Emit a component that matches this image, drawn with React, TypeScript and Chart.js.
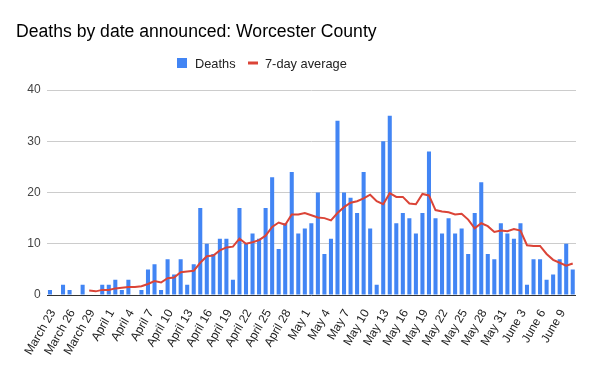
import React, { useEffect, useRef } from "react";
import { Chart, registerables } from "chart.js";

Chart.register(...registerables);

const titleText = "Deaths by date announced: Worcester County";

const categories = [
  "March 23", "March 24", "March 25", "March 26", "March 27", "March 28", "March 29", "March 30", "March 31",
  "April 1", "April 2", "April 3", "April 4", "April 5", "April 6", "April 7", "April 8", "April 9", "April 10",
  "April 11", "April 12", "April 13", "April 14", "April 15", "April 16", "April 17", "April 18", "April 19", "April 20",
  "April 21", "April 22", "April 23", "April 24", "April 25", "April 26", "April 27", "April 28", "April 29", "April 30",
  "May 1", "May 2", "May 3", "May 4", "May 5", "May 6", "May 7", "May 8", "May 9", "May 10",
  "May 11", "May 12", "May 13", "May 14", "May 15", "May 16", "May 17", "May 18", "May 19", "May 20",
  "May 21", "May 22", "May 23", "May 24", "May 25", "May 26", "May 27", "May 28", "May 29", "May 30", "May 31",
  "June 1", "June 2", "June 3", "June 4", "June 5", "June 6", "June 7", "June 8", "June 9", "June 10", "June 11",
];

const shownTicks = [
  "March 23", "March 26", "March 29", "April 1", "April 4", "April 7", "April 10", "April 13", "April 16",
  "April 19", "April 22", "April 25", "April 28", "May 1", "May 4", "May 7", "May 10", "May 13", "May 16",
  "May 19", "May 22", "May 25", "May 28", "May 31", "June 3", "June 6", "June 9",
];

const deaths = [
  1, 0, 2, 1, 0, 2, 0, 0, 2,
  2, 3, 1, 3, 0, 1, 5, 6, 1, 7,
  4, 7, 2, 6, 17, 10, 8, 11, 11, 3,
  17, 10, 12, 11, 17, 23, 9, 14, 24, 12,
  13, 14, 20, 8, 11, 34, 20, 19, 16, 24,
  13, 2, 30, 35, 14, 16, 15, 12, 16, 28,
  15, 12, 15, 12, 13, 8, 16, 22, 8, 7, 14,
  12, 11, 14, 2, 7, 7, 3, 4, 7, 10, 5,
];

const sevenDayAverage = [
  null, null, null, null, null, null, 0.86, 0.71, 1.0,
  1.0, 1.29, 1.43, 1.57, 1.57, 1.71, 2.14, 2.71, 2.43, 3.29,
  3.43, 4.43, 4.57, 4.71, 6.29, 7.57, 7.71, 8.71, 9.29, 9.43,
  11.0, 10.0, 10.29, 10.71, 11.57, 13.29, 14.14, 13.71, 15.71, 15.71,
  16.0, 15.57, 15.14, 15.0, 14.57, 16.0, 17.14, 18.0, 18.29, 18.86,
  19.57, 18.29, 17.71, 19.86, 19.14, 19.14, 17.86, 17.71, 19.71, 19.43,
  16.57, 16.29, 16.14, 15.71, 15.86, 14.71, 13.0, 14.0, 13.43, 12.29, 12.57,
  12.43, 12.86, 12.57, 9.71, 9.57, 9.57, 8.0, 6.86, 6.29, 5.71, 6.14,
];

const yTicks = [0, 10, 20, 30, 40];

const BLUE = "#4285f4";
const RED = "#db4437";
const FONT = "'Liberation Sans', Arial, sans-serif";

const overlayPlugin = {
  id: "overlay",
  afterDraw(chart: any) {
    const ctx = chart.ctx;
    ctx.save();
    ctx.textAlign = "left";
    ctx.textBaseline = "alphabetic";
    ctx.fillStyle = "#000";
    ctx.font = `17.6px ${FONT}`;
    ctx.fillText(titleText, 16, 37);

    ctx.font = `12.8px ${FONT}`;
    ctx.fillStyle = BLUE;
    ctx.fillRect(177, 58, 10, 10);
    ctx.fillStyle = "#222";
    ctx.fillText(chart.data.datasets[1].label, 195, 68);
    ctx.strokeStyle = RED;
    ctx.lineWidth = 3;
    ctx.beginPath();
    ctx.moveTo(248, 63);
    ctx.lineTo(258, 63);
    ctx.stroke();
    ctx.fillStyle = "#222";
    ctx.fillText(chart.data.datasets[0].label, 265, 68);
    ctx.restore();
  },
};

export default function App() {
  const ref = useRef<HTMLCanvasElement | null>(null);

  useEffect(() => {
    if (!ref.current) return;
    const chart = new Chart(ref.current, {
      type: "bar",
      data: {
        labels: categories,
        datasets: [
          {
            type: "line",
            label: "7-day average",
            data: sevenDayAverage as any,
            borderColor: RED,
            backgroundColor: RED,
            borderWidth: 2,
            pointRadius: 0,
            tension: 0,
            order: 0,
          } as any,
          {
            type: "bar",
            label: "Deaths",
            data: deaths,
            backgroundColor: BLUE,
            barPercentage: 0.62,
            categoryPercentage: 1,
            order: 1,
          },
        ],
      },
      options: {
        responsive: false,
        animation: false,
        devicePixelRatio: 1,
        layout: { padding: { top: 90, right: 20, left: 0, bottom: 0 } },
        plugins: {
          legend: { display: false },
          title: { display: false },
          tooltip: { enabled: false },
        },
        scales: {
          x: {
            grid: { display: false },
            border: { display: false },
            ticks: {
              autoSkip: false,
              maxRotation: 60,
              minRotation: 60,
              color: "#222",
              font: { family: FONT, size: 12 },
              padding: 4,
              labelOffset: 3,
              callback: function (this: any, _v: any, i: number) {
                const l = categories[i];
                return shownTicks.includes(l) ? l : "";
              },
            },
            afterFit: (s: any) => {
              s.height = 73;
            },
          },
          y: {
            min: 0,
            max: 40,
            border: { display: false },
            grid: {
              drawTicks: false,
              color: (c: any) => (c.tick && c.tick.value === 0 ? "#333" : "#ccc"),
            },
            ticks: {
              stepSize: 10,
              padding: 6,
              color: "#444",
              font: { family: FONT, size: 12 },
              callback: (v: any) => (yTicks.includes(v) ? String(v) : ""),
            },
            afterFit: (s: any) => {
              s.width = 46.7;
            },
          },
        },
      },
      plugins: [overlayPlugin],
    });
    return () => chart.destroy();
  }, []);

  return (
    <div style={{ position: "fixed", left: 0, top: 0, width: 596, height: 368, background: "#fff" }}>
      <canvas ref={ref} width={596} height={368} style={{ width: 596, height: 368 }} />
    </div>
  );
}
